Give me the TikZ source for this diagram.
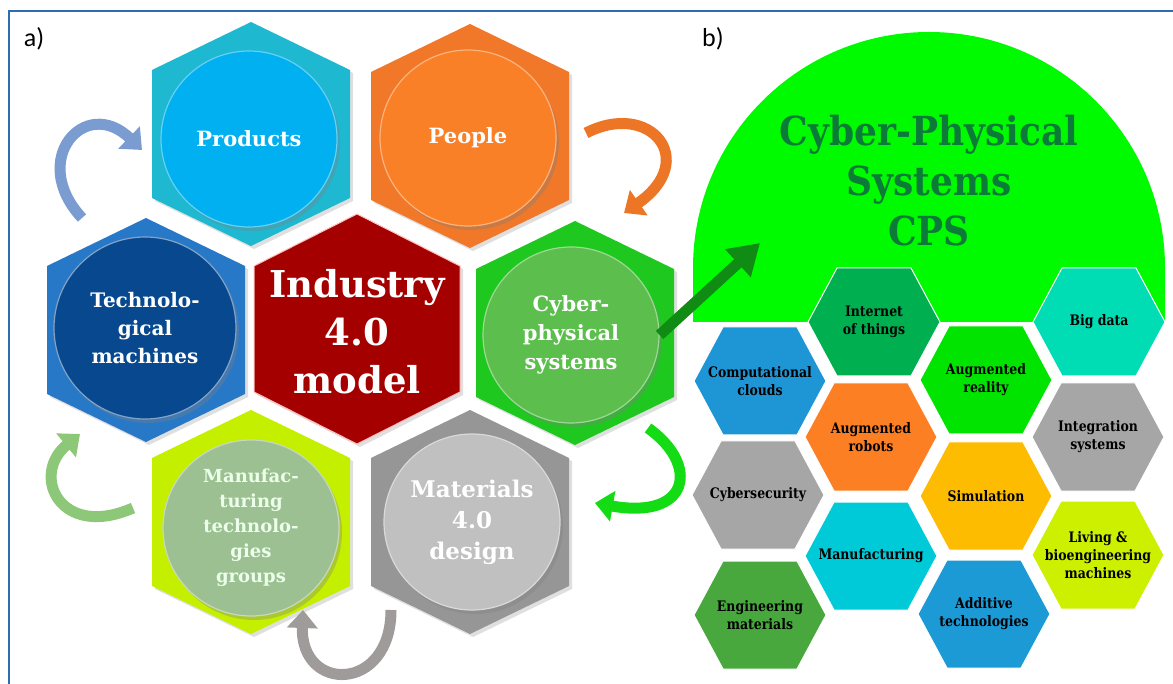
\documentclass[tikz,border=0pt]{standalone}
\usepackage{fontspec}
\setmainfont{Carlito}
\newfontfamily\chunky{DejaVu Serif}
\newfontfamily\cpsfont[FakeStretch=0.9]{DejaVu Serif}
\newfontfamily\cond[FakeStretch=0.86]{DejaVu Serif}
\usetikzlibrary{arrows.meta,shadows}

\definecolor{framecol}{RGB}{46,110,176}
\definecolor{prodhex}{RGB}{30,184,208}\definecolor{prodcirc}{RGB}{0,176,240}
\definecolor{peophex}{RGB}{240,120,40}\definecolor{peopcirc}{RGB}{250,128,40}
\definecolor{techhex}{RGB}{40,120,200}\definecolor{techcirc}{RGB}{8,72,142}
\definecolor{indhex}{RGB}{165,0,0}
\definecolor{cybhex}{RGB}{30,200,30}\definecolor{cybcirc}{RGB}{92,190,76}
\definecolor{manhex}{RGB}{196,240,0}\definecolor{mancirc}{RGB}{156,192,146}
\definecolor{mathex}{RGB}{150,150,150}\definecolor{matcirc}{RGB}{192,192,192}
\definecolor{cpsgreen}{RGB}{0,250,0}
\definecolor{cpstext}{RGB}{12,122,56}
\definecolor{arrblue}{RGB}{122,156,208}
\definecolor{arrorange}{RGB}{236,118,38}
\definecolor{arrgreen}{RGB}{20,220,20}
\definecolor{arrlgreen}{RGB}{140,200,120}
\definecolor{arrgrey}{RGB}{160,155,155}
\definecolor{arrdark}{RGB}{16,140,20}
\definecolor{cIoT}{RGB}{0,176,80}
\definecolor{cBig}{RGB}{0,220,180}
\definecolor{cCloud}{RGB}{30,150,214}
\definecolor{cAR}{RGB}{0,228,0}
\definecolor{cRob}{RGB}{253,127,36}
\definecolor{cGrey}{RGB}{166,166,166}
\definecolor{cSim}{RGB}{253,188,0}
\definecolor{cMan}{RGB}{0,202,216}
\definecolor{cLiv}{RGB}{204,240,0}
\definecolor{cEng}{RGB}{72,168,62}
\definecolor{cAdd}{RGB}{28,154,214}

\tikzset{
  hexshadow/.style={drop shadow={shadow xshift=3pt,shadow yshift=-3pt,opacity=0.25}},
  bigcirc/.style={circle, minimum size=176pt, inner sep=0pt, align=center,
     text=white, font=\chunky\bfseries\fontsize{21}{28}\selectfont,
     drop shadow={shadow xshift=3pt,shadow yshift=-4pt,opacity=0.35}},
  hextext/.style={align=center, inner sep=0pt, text=black,
     font=\cond\bfseries\fontsize{14.5}{18}\selectfont},
  curvarrow/.style={line width=11pt, -{Triangle[length=18pt,width=30pt]}},
  paneltag/.style={font=\fontsize{26}{26}\selectfont, text=black, inner sep=0pt},
}

\newcommand\bighex[4]{%
  \coordinate (#1) at (#2,#3);
  \fill[#4,hexshadow] (#1) +(0,-112) -- +(99,-64) -- +(99,64) -- +(0,112) -- +(-99,64) -- +(-99,-64) -- cycle;}
\newcommand\smallhex[5]{%
  \filldraw[fill=#4, draw=white, line width=1pt] (#2,#3) +(-66,0) -- +(-37,-54) -- +(37,-54) -- +(66,0) -- +(37,54) -- +(-37,54) -- cycle;
  \node[hextext] (#1) at (#2,#3) {#5};}

\begin{document}
\begin{tikzpicture}[x=1pt,y=-1pt]
\useasboundingbox (0,0) rectangle (1173,684);
\fill[white] (0,0) rectangle (1173,684);
% frame
\draw[framecol, line width=2.2pt] (9,684) -- (9,11) -- (1173,11);
\node[paneltag] (la) at (34,39) {a)};
\node[paneltag] (lb) at (713,39) {b)};

% ---------- part a ----------
\bighex{hprod}{251}{134}{prodhex}
\bighex{hpeop}{470}{136}{peophex}
\bighex{htech}{146}{330}{techhex}
\bighex{hcyb}{575}{333}{cybhex}
\bighex{hman}{251}{522}{manhex}
\bighex{hmat}{470}{522}{mathex}
\coordinate (hind) at (357,329);
\filldraw[fill=indhex, draw=white!75!red, line width=1pt, hexshadow] (hind) +(0,-115) -- +(103,-63) -- +(103,63) -- +(0,115) -- +(-103,63) -- +(-103,-63) -- cycle;

\node[bigcirc, fill=prodcirc, draw=prodcirc!60!white, line width=1.2pt] (cprod) at (249,139) {Products};
\node[bigcirc, fill=peopcirc, draw=peopcirc!60!white, line width=1.2pt] (cpeop) at (468,138) {People};
\node[bigcirc, fill=techcirc, draw=techcirc!50!white, line width=1.2pt, minimum size=182pt, font=\chunky\bfseries\fontsize{20}{28}\selectfont] (ctech) at (145,328) {Technolo-\\gical\\machines};
\node[bigcirc, fill=cybcirc, draw=cybcirc!60!white, line width=1.2pt, font=\chunky\bfseries\fontsize{21}{29}\selectfont] (ccyb) at (571,335) {Cyber-\\physical\\systems};
\node[bigcirc, fill=mancirc, draw=mancirc!60!white, line width=1.2pt, text=white!92!green, font=\chunky\bfseries\fontsize{18}{25}\selectfont] (cman) at (251,528) {Manufac-\\turing\\technolo-\\gies\\groups};
\node[bigcirc, fill=matcirc, draw=matcirc!60!white, line width=1.2pt, font=\chunky\bfseries\fontsize{23}{31}\selectfont] (cmat) at (472,522) {Materials\\4.0\\design};
\node[align=center, text=white, font=\chunky\bfseries\fontsize{37}{48}\selectfont] (tind) at (357,332) {Industry\\4.0\\model};

% curved arrows
\coordinate (b1) at (82,218); \coordinate (b2) at (142,150);
\draw[curvarrow, arrblue] (b1) .. controls (28,160) and (85,95) .. (b2);
\coordinate (o1) at (586,133); \coordinate (o2) at (624,213);
\draw[curvarrow, arrorange] (o1) .. controls (650,100) and (700,160) .. (o2);
\coordinate (g1) at (648,428); \coordinate (g2) at (595,503);
\draw[curvarrow, arrgreen] (g1) .. controls (700,465) and (690,520) .. (g2);
\coordinate (l1) at (133,508); \coordinate (l2) at (80,434);
\draw[curvarrow, arrlgreen] (l1) .. controls (60,540) and (30,475) .. (l2);
\coordinate (r1) at (391,610); \coordinate (r2) at (303,610);
\draw[curvarrow, arrgrey] (r1) .. controls (391,693) and (300,693) .. (r2);

% ---------- part b ----------
\fill[cpsgreen] (693,322) -- (693,268) arc[start angle=180, end angle=360, radius=236] -- (1165,322) -- cycle;
\node[align=center, text=cpstext, font=\cpsfont\bfseries\fontsize{40}{50}\selectfont] (cps) at (929,181) {Cyber-Physical\\Systems\\CPS};

\coordinate (tip) at (760,243);
\draw[arrdark, line width=11pt, -{Triangle[length=30pt,width=36pt]}] (ccyb.east) -- (tip);

\smallhex{iot}{874}{322}{cIoT}{Internet\\of things}
\smallhex{big}{1099}{322}{cBig}{Big data}
\smallhex{cloud}{760}{381}{cCloud}{Computational\\clouds}
\smallhex{ar}{986}{380}{cAR}{Augmented\\reality}
\smallhex{rob}{871}{437}{cRob}{Augmented\\robots}
\smallhex{integ}{1098}{437}{cGrey}{Integration\\systems}
\smallhex{cyber}{758}{495}{cGrey}{Cybersecurity}
\smallhex{sim}{986}{496}{cSim}{Simulation}
\smallhex{manu}{871}{556}{cMan}{Manufacturing}
\smallhex{liv}{1098}{555}{cLiv}{Living \&\\bioengineering\\machines}
\smallhex{eng}{760}{615}{cEng}{Engineering\\materials}
\smallhex{add}{984}{614}{cAdd}{Additive\\technologies}
\end{tikzpicture}
\end{document}
